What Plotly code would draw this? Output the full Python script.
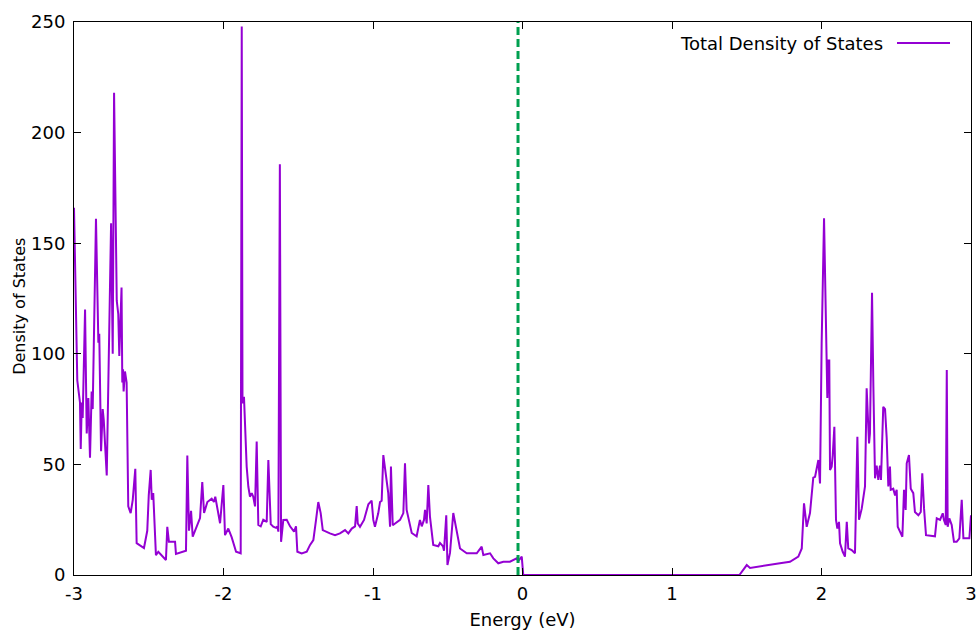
import plotly.graph_objects as go

# Energy (eV) and total density of states
energy = [
    -3.000, -2.978, -2.960, -2.955, -2.948, -2.942, -2.926, -2.915, -2.904, -2.893,
    -2.882, -2.875, -2.853, -2.837, -2.831, -2.819, -2.808, -2.801, -2.781, -2.752,
    -2.741, -2.732, -2.714, -2.704, -2.697, -2.682, -2.677, -2.672, -2.668, -2.659,
    -2.648, -2.637, -2.621, -2.607, -2.590, -2.581, -2.532, -2.510, -2.500, -2.487,
    -2.480, -2.470, -2.452, -2.436, -2.385, -2.376, -2.365, -2.324, -2.318, -2.251,
    -2.242, -2.231, -2.217, -2.206, -2.157, -2.142, -2.130, -2.108, -2.079, -2.064,
    -2.055, -2.023, -2.001, -1.990, -1.968, -1.945, -1.916, -1.885, -1.878, -1.873,
    -1.863, -1.850, -1.845, -1.834, -1.823, -1.811, -1.801, -1.789, -1.778, -1.767,
    -1.751, -1.734, -1.711, -1.700, -1.684, -1.667, -1.649, -1.640, -1.633, -1.623,
    -1.615, -1.600, -1.577, -1.555, -1.528, -1.515, -1.506, -1.477, -1.443, -1.421,
    -1.399, -1.381, -1.366, -1.350, -1.336, -1.288, -1.254, -1.221, -1.187, -1.165,
    -1.142, -1.120, -1.109, -1.102, -1.087, -1.060, -1.042, -1.031, -1.009, -0.998,
    -0.987, -0.965, -0.953, -0.942, -0.931, -0.908, -0.898, -0.886, -0.880, -0.868,
    -0.819, -0.797, -0.786, -0.775, -0.741, -0.708, -0.686, -0.674, -0.659, -0.652,
    -0.641, -0.630, -0.619, -0.597, -0.563, -0.552, -0.532, -0.525, -0.510, -0.502,
    -0.485, -0.463, -0.445, -0.418, -0.373, -0.306, -0.273, -0.262, -0.217, -0.195,
    -0.162, -0.128, -0.084, -0.062, -0.039, -0.028, -0.005, 0.005, 0.500, 1.000,
    1.451, 1.500, 1.522, 1.722, 1.789, 1.845, 1.868, 1.883, 1.901, 1.923,
    1.934, 1.945, 1.957, 1.968, 1.979, 1.990, 2.001, 2.017, 2.030, 2.039,
    2.046, 2.052, 2.057, 2.068, 2.075, 2.086, 2.097, 2.106, 2.117, 2.124,
    2.142, 2.157, 2.169, 2.179, 2.202, 2.224, 2.240, 2.251, 2.269, 2.291,
    2.302, 2.318, 2.324, 2.338, 2.347, 2.358, 2.369, 2.380, 2.391, 2.398,
    2.413, 2.425, 2.436, 2.447, 2.458, 2.463, 2.480, 2.492, 2.503, 2.510,
    2.525, 2.541, 2.552, 2.563, 2.570, 2.585, 2.597, 2.614, 2.625, 2.648,
    2.664, 2.674, 2.686, 2.699, 2.759, 2.771, 2.793, 2.811, 2.819, 2.831,
    2.838, 2.844, 2.855, 2.871, 2.886, 2.904, 2.922, 2.938, 2.949, 2.989,
    3.000,
]
dos = [
    166, 88, 78, 57, 78, 71, 120, 64, 80, 53,
    83, 75, 161, 105, 109, 56, 75, 70, 45, 159,
    100, 218, 124, 118, 99, 130, 87, 93, 83, 92,
    87, 31, 28, 34, 48, 14.4, 12.2, 20, 36, 47.5,
    34, 37, 9, 10.5, 6.8, 21.8, 15, 15, 9.5, 11,
    54, 20, 29, 17.3, 25.7, 42, 28, 33, 34.5, 33,
    35.4, 23.4, 40.7, 18, 21, 17, 10.5, 9.8, 248, 77.6,
    80.6, 55, 49, 40, 35.4, 37, 35.4, 31, 60.3, 22.6,
    22, 25, 24, 52, 23, 21.8, 21.3, 22, 19.6, 185.7,
    15, 24.9, 25, 22, 19.6, 22, 10.5, 9.7, 10.5, 13.6,
    15.8, 24.9, 33, 28, 20.3, 18.8, 18, 18.8, 20.3, 18.8,
    21, 22, 31.2, 23.3, 21.8, 24.9, 29.4, 32, 33.6, 24.9,
    21.8, 27.9, 33, 33.6, 54.2, 43, 37, 21.8, 49, 22.5,
    24.9, 28, 50.5, 29.4, 19, 17.5, 24.9, 22, 24.9, 29.4,
    23.3, 40.7, 26.4, 13.6, 13, 14.5, 13, 11, 27, 4.5,
    10, 28, 22, 12, 9.8, 9.8, 12.8, 9, 9.8, 7.5,
    5.3, 6, 6, 6.8, 7.5, 6.3, 8.3, 0, 0, 0,
    0, 4.5, 3.2, 5.3, 6, 8.3, 12, 32.4, 21.8, 28,
    37, 44, 44.4, 48, 52, 41.4, 104.7, 161.3, 103, 80,
    97, 97, 47.5, 49, 54, 67, 24.9, 21, 24, 14.3,
    10.5, 8.3, 24, 12, 11.3, 9.8, 62.5, 25, 30, 40,
    84.4, 59.5, 64, 127.6, 85, 43.7, 49.5, 43, 49.5, 43,
    76, 75, 62, 40, 49, 38.5, 39, 36, 38.5, 21.8,
    19.6, 17.3, 38.5, 29.4, 50.5, 54.2, 39, 37, 28.5, 27,
    28.5, 46, 30, 18, 17.5, 25.6, 24.9, 27.9, 24.9, 22.6,
    92.7, 21.8, 25.6, 22.6, 15, 15, 16.6, 34, 16.6, 16.6,
    27,
]
fermi_energy = -0.03
x_range = [-3, 3]
y_range = [0, 250]
x_ticks = [-3, -2, -1, 0, 1, 2, 3]
x_tick_labels = ["-3", "-2", "-1", "0", "1", "2", "3"]
y_ticks = [0, 50, 100, 150, 200, 250]
y_tick_labels = ["0", "50", "100", "150", "200", "250"]
series_name = "Total Density of States"
x_title = "Energy (eV)"
y_title = "Density of States"

PURPLE = "#9400D3"
GREEN = "#00A050"
FONT = "DejaVu Sans"
FS = 18

fig = go.Figure()
fig.add_trace(go.Scatter(
    x=energy, y=dos, mode="lines", name=series_name,
    line=dict(color=PURPLE, width=2), showlegend=False,
))
fig.add_trace(go.Scatter(
    x=[fermi_energy, fermi_energy], y=y_range, mode="lines",
    line=dict(color=GREEN, width=3, dash="8px,4px"), showlegend=False,
))

# gnuplot-style key: text on the left, line sample on the right
fig.add_annotation(
    xref="paper", yref="paper", x=0.904, y=0.962, text=series_name,
    showarrow=False, xanchor="right", yanchor="middle",
    font=dict(family=FONT, size=FS, color="black"),
)
fig.add_shape(
    type="line", xref="paper", yref="paper",
    x0=0.9175, x1=0.9766, y0=0.962, y1=0.962,
    line=dict(color=PURPLE, width=2),
)
# y-axis title
fig.add_annotation(
    xref="paper", yref="paper", x=-0.0602, y=0.485, text=y_title,
    textangle=-90, showarrow=False, xanchor="center", yanchor="middle",
    font=dict(family=FONT, size=16, color="black"),
)

axis_common = dict(
    showline=True, linecolor="black", linewidth=1, mirror="ticks",
    ticks="inside", ticklen=7, tickwidth=1, tickcolor="black",
    showgrid=False, zeroline=False,
    tickfont=dict(family=FONT, size=FS, color="black"),
)
fig.update_xaxes(
    range=x_range, tickvals=x_ticks, ticktext=x_tick_labels, **axis_common,
    ticklabelstandoff=2,
    title=dict(text=x_title, font=dict(family=FONT, size=FS, color="black"), standoff=10),
)
fig.update_yaxes(
    range=y_range, tickvals=y_ticks, ticktext=y_tick_labels, **axis_common,
    ticklabelstandoff=4,
)
fig.update_layout(
    width=979, height=633,
    margin=dict(l=74, r=8, t=22, b=58, autoexpand=False),
    plot_bgcolor="white", paper_bgcolor="white",
)
fig.write_html("out.html")
